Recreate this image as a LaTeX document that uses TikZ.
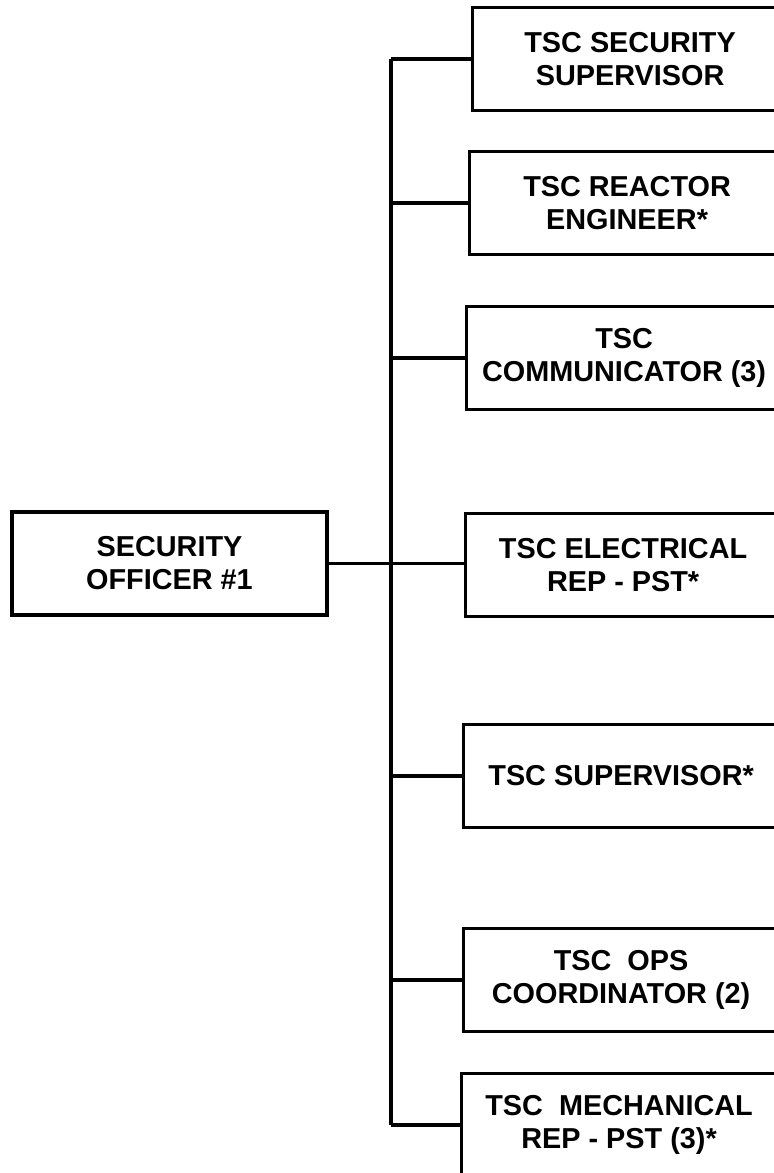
\documentclass[tikz,border=0pt]{standalone}
\usepackage{fontspec}
\setmainfont{Liberation Sans}
\usepackage{tikz}
\usetikzlibrary{positioning,calc}

\begin{document}
\begin{tikzpicture}[x=0.025cm,y=-0.025cm,
    role/.style={draw,line width=2.2pt,minimum width=7.875cm,minimum height=2.575cm,
      align=center,inner sep=0pt,font=\bfseries\fontsize{20.5}{23.5}\selectfont},
    link/.style={line width=2.2pt}]
  \clip (0,0) rectangle (774,1173);
  % left-hand post
  \node[role] (officer) at (169.5,563.5) {SECURITY\\OFFICER \#1};
  % right-hand posts
  \node[role,anchor=west] (secsup)  at (471,59)   {TSC SECURITY\\SUPERVISOR};
  \node[role,anchor=west] (reactor) at (468,203)  {TSC REACTOR\\ENGINEER*};
  \node[role,anchor=west] (comm)    at (465,358)  {TSC\\COMMUNICATOR (3)};
  \node[role,anchor=west] (elec)    at (464,565)  {TSC ELECTRICAL\\REP - PST*};
  \node[role,anchor=west] (tscsup)  at (462,776)  {TSC SUPERVISOR*};
  \node[role,anchor=west] (ops)     at (462,980)  {TSC\ \ OPS\\COORDINATOR (2)};
  \node[role,anchor=west] (mech)    at (460,1125) {TSC\ \ MECHANICAL\\REP - PST (3)*};
  % bus
  \coordinate (bus) at (391,0);
  \draw[link] (bus |- secsup.west) -- (bus |- mech.west);
  \draw[link] (officer.east) -- (officer.east -| elec.west);
  \draw[link] (bus |- secsup.west) -- (secsup.west);
  \draw[link] (bus |- reactor.west) -- (reactor.west);
  \draw[link] (bus |- comm.west) -- (comm.west);
  \draw[link] (bus |- tscsup.west) -- (tscsup.west);
  \draw[link] (bus |- ops.west) -- (ops.west);
  \draw[link] (bus |- mech.west) -- (mech.west);
\end{tikzpicture}
\end{document}
